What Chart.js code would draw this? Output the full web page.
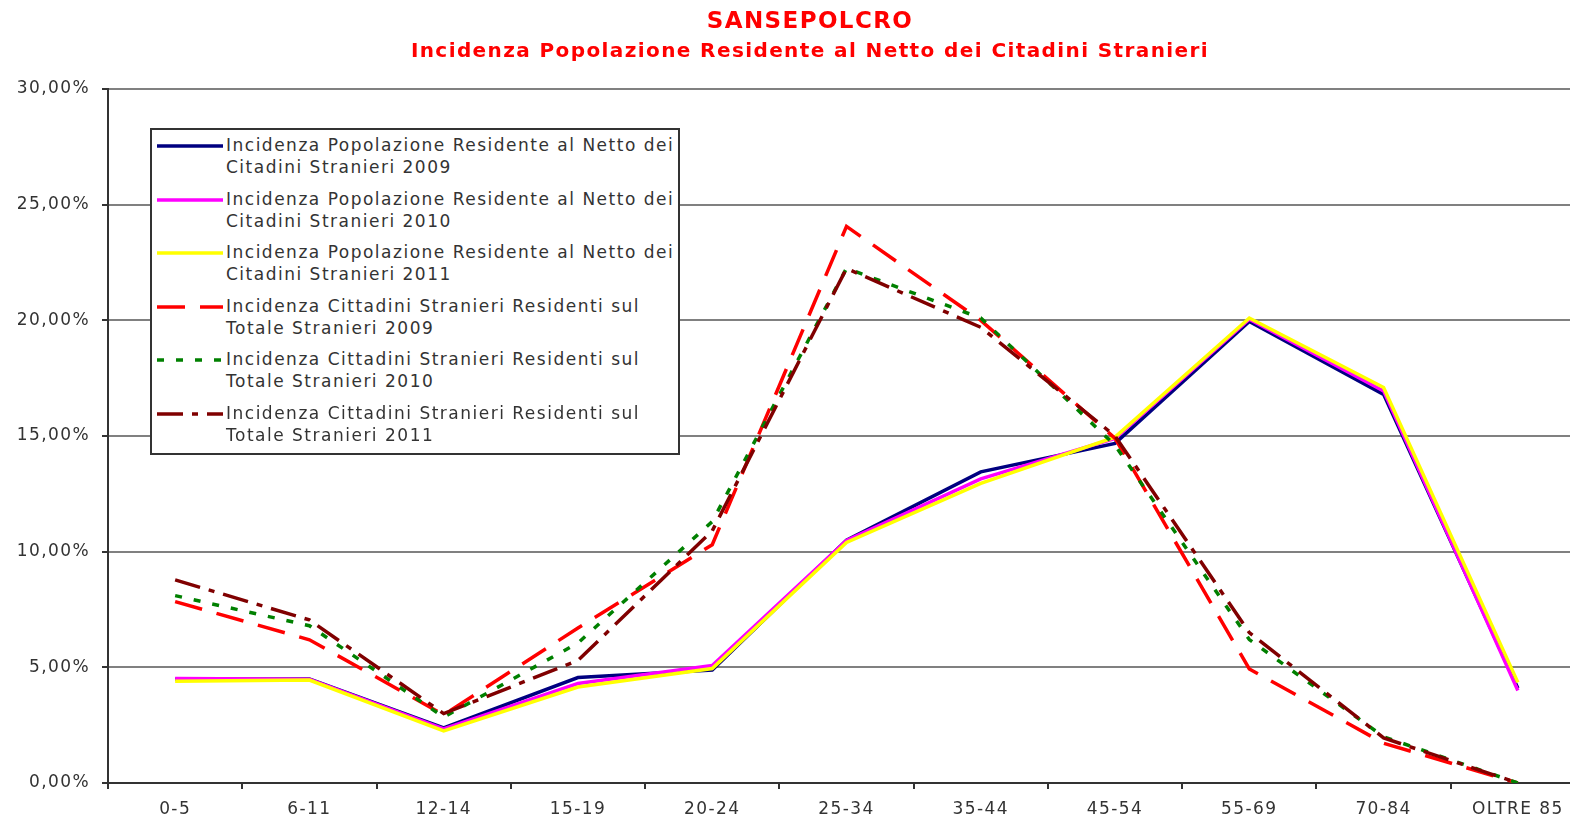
<!DOCTYPE html>
<html>
<head>
<meta charset="utf-8">
<script src="https://cdn.jsdelivr.net/npm/chart.js@4/dist/chart.umd.min.js"></script>
<style>
  body { margin: 0; overflow: hidden; background: #fff; }
  #wrap { position: relative; width: 1620px; height: 823px; }
  #legend {
    position: absolute; left: 150px; top: 128px; width: 526px; height: 319px;
    border: 2px solid #333; background: #fff;
    font-family: "DejaVu Sans", sans-serif; font-size: 17px; color: #333;
    letter-spacing: 1.5px; padding-top: 4px; box-sizing: content-box;
  }
  .item { display: flex; height: 53.6px; }
  .item svg { margin-left: 5px; margin-top: 2px; flex: none; }
  .item div { line-height: 22px; margin-left: 3px; white-space: nowrap; }
</style>
</head>
<body>
<div id="wrap">
  <canvas id="chart" width="1620" height="823"></canvas>
  <div id="legend"></div>
</div>
<script>
// fasce d'età
const categories = ['0-5', '6-11', '12-14', '15-19', '20-24', '25-34', '35-44', '45-54', '55-69', '70-84', 'OLTRE 85']

// popolazione residente al netto degli stranieri (%)
const netto2009 = [4.48, 4.50, 2.38, 4.56, 4.88, 10.50, 13.45, 14.68, 19.95, 16.80, 4.10]
const netto2010 = [4.52, 4.48, 2.34, 4.30, 5.08, 10.48, 13.15, 14.90, 20.05, 16.95, 4.00]
const netto2011 = [4.40, 4.45, 2.25, 4.15, 4.95, 10.40, 12.95, 14.95, 20.10, 17.10, 4.35]

// cittadini stranieri sul totale stranieri (%)
const stranieri2009 = [7.84, 6.19, 2.95, 6.70, 10.30, 24.06, 20.00, 14.90, 4.93, 1.72, 0.00]
const stranieri2010 = [8.10, 6.80, 2.85, 6.05, 11.30, 22.25, 20.10, 14.60, 6.20, 2.00, 0.00]
const stranieri2011 = [8.78, 7.05, 3.00, 5.30, 10.90, 22.24, 19.70, 15.00, 6.50, 1.95, 0.00]

const seriesLabels = [
  ['Incidenza Popolazione Residente al Netto dei', 'Citadini Stranieri 2009'],
  ['Incidenza Popolazione Residente al Netto dei', 'Citadini Stranieri 2010'],
  ['Incidenza Popolazione Residente al Netto dei', 'Citadini Stranieri 2011'],
  ['Incidenza Cittadini Stranieri Residenti sul', 'Totale Stranieri 2009'],
  ['Incidenza Cittadini Stranieri Residenti sul', 'Totale Stranieri 2010'],
  ['Incidenza Cittadini Stranieri Residenti sul', 'Totale Stranieri 2011']
]
const seriesData = [netto2009, netto2010, netto2011, stranieri2009, stranieri2010, stranieri2011]
const colors = ['#000080', '#ff00ff', '#ffff00', '#ff0000', '#008000', '#800000']
const dashes = [[], [], [], [28, 15], [7, 12], [26, 9, 6, 9]]

const FONT = '"DejaVu Sans", sans-serif'

// spaziatura lettere come nel grafico Excel
const spacing = {
  id: 'spacing',
  beforeInit(c) { c.ctx.letterSpacing = '1.4px' },
  beforeUpdate(c) { c.ctx.letterSpacing = '1.4px' },
  beforeDraw(c) { c.ctx.letterSpacing = '1.4px' },
  // titoli centrati sulla larghezza intera
  afterLayout(c) {
    c.boxes.forEach(b => {
      if (b.options && b.options.text !== undefined && b.position === 'top') {
        b.left = 0
        b.right = 1620
        b.width = 1620
      }
    })
  }
}

const datasets = seriesData.map((d, i) => ({
  label: seriesLabels[i].join(' '),
  data: d,
  borderColor: colors[i],
  backgroundColor: colors[i],
  borderWidth: 3.5,
  borderDash: dashes[i],
  pointRadius: 0,
  tension: 0,
  order: 6 - i
}))

new Chart(document.getElementById('chart'), {
  type: 'line',
  data: { labels: categories, datasets },
  plugins: [spacing],
  options: {
    responsive: false,
    animation: false,
    layout: { padding: { left: 0, right: 35, top: 0, bottom: 0 } },
    plugins: {
      legend: { display: false },
      tooltip: { enabled: false },
      title: {
        display: true,
        text: 'SANSEPOLCRO',
        color: '#ff0000',
        font: { family: FONT, size: 23, weight: 'bold', lineHeight: 30 / 23 },
        padding: { top: 7, bottom: 0 }
      },
      subtitle: {
        display: true,
        text: 'Incidenza Popolazione Residente al Netto dei Citadini Stranieri',
        color: '#ff0000',
        font: { family: FONT, size: 20, weight: 'bold', lineHeight: 1.5 },
        padding: { top: 0, bottom: 22 }
      }
    },
    scales: {
      x: {
        offset: true,
        grid: { drawOnChartArea: false, offset: true, tickLength: 6, tickColor: '#333', lineWidth: 2 },
        border: { color: '#333', width: 2 },
        ticks: { color: '#333', padding: 10, maxRotation: 0, autoSkip: false, font: { family: FONT, size: 17 } },
        afterFit: (s) => { s.height = 40 }
      },
      y: {
        min: 0,
        max: 30,
        grid: { color: '#808080', lineWidth: 2, tickLength: 6, tickColor: '#333' },
        border: { color: '#333', width: 2 },
        ticks: {
          stepSize: 5,
          color: '#333',
          padding: 12,
          font: { family: FONT, size: 17 },
          callback: (v) => v.toFixed(2).replace('.', ',') + '%'
        },
        afterFit: (s) => { s.width = 108 }
      }
    }
  }
})

// legenda interna al grafico
const legend = document.getElementById('legend')
seriesLabels.forEach((lines, i) => {
  const item = document.createElement('div')
  item.className = 'item'
  const dash = dashes[i].length ? ` stroke-dasharray="${dashes[i].join(' ')}"` : ''
  item.innerHTML = `<svg width="66" height="20"><line x1="0" y1="10" x2="66" y2="10" stroke="${colors[i]}" stroke-width="3.5"${dash}/></svg>` +
    `<div>${lines[0]}<br>${lines[1]}</div>`
  legend.appendChild(item)
})
</script>
</body>
</html>
